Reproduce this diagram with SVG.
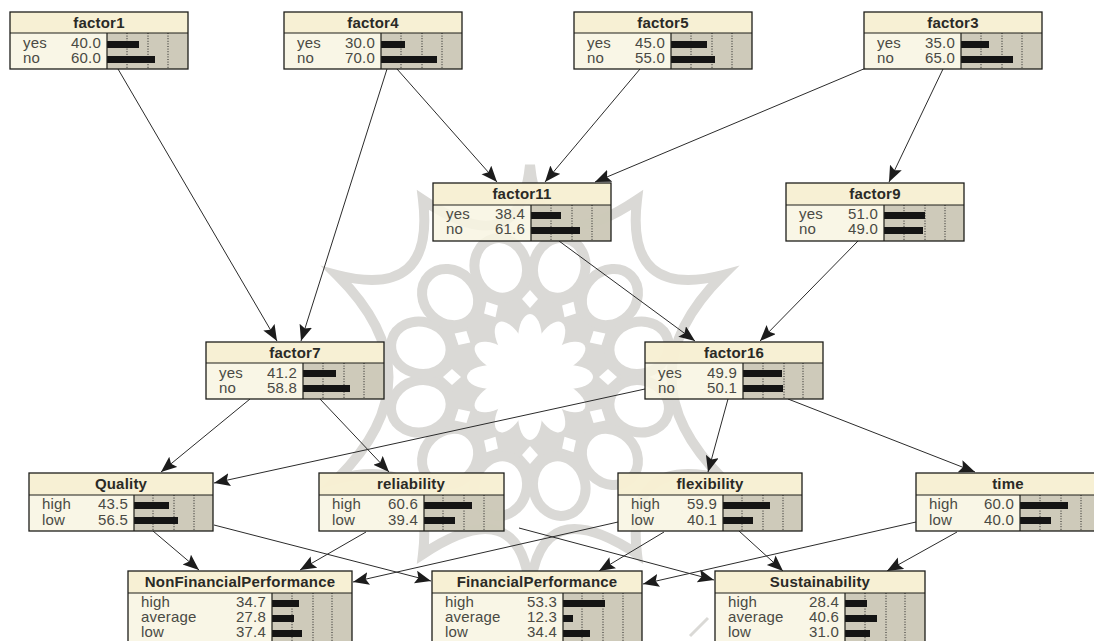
<svg xmlns="http://www.w3.org/2000/svg" width="1094" height="641" viewBox="0 0 1094 641">
<style>
text{font-family:"Liberation Sans",Arial,sans-serif;font-size:15px;letter-spacing:.2px;fill:#4a4a44}
.t{font-weight:bold;font-size:15px;text-anchor:middle;fill:#2a2a26}
.v{text-anchor:end}
.body{fill:#f8f4e2;fill-opacity:.86}
.head{fill:#f7efd0;fill-opacity:.86}
.plot{fill:#c9c5b5;fill-opacity:.9}
.frame{fill:none;stroke:#1e1e1a;stroke-width:1.3}
.sep{stroke:#1e1e1a;stroke-width:1.2}
.grid{stroke:#222;stroke-width:1;stroke-dasharray:1 1.6}
.bar{fill:#141414}
.c{fill:none;stroke:#2b2b2b;stroke-width:1;marker-end:url(#a)}
.wm{fill:none;stroke:#dad9d6;stroke-width:10;stroke-linejoin:miter}
.ring{fill:#fff;stroke:#dad9d6;stroke-width:10}
.pet{fill:#fff}
</style>
<defs>
<marker id="a" markerUnits="userSpaceOnUse" markerWidth="18" markerHeight="14" refX="16" refY="6.5" orient="auto"><path d="M0 0L16 6.5L0 13L3 6.5Z" fill="#1c1c1c"/></marker>
<ellipse id="rc" class="ring" cx="0" cy="-113" rx="26" ry="30"/>
<ellipse id="pt" class="pet" cx="0" cy="-38" rx="12" ry="25"/>
<path id="dm" class="pet" d="M0 -87L8 -78L0 -69L-8 -78Z"/>
</defs>
<rect width="1094" height="641" fill="#fff"/>
<g id="watermark">
<path class="wm" d="M530 165Q540 265 637 200Q625 300 723 275Q620 377 723 479Q625 454 637 554Q540 490 530 590Q520 490 423 554Q435 454 337 479Q440 377 337 275Q435 300 423 200Q520 265 530 165Z"/>
<path class="wm" style="stroke-width:3" d="M690 636L708 618M236 634L250 620"/>
<g transform="translate(530 377)">
<circle r="98" fill="#dad9d6"/>
<use href="#dm"/><use href="#dm" transform="rotate(30)"/><use href="#dm" transform="rotate(60)"/><use href="#dm" transform="rotate(90)"/><use href="#dm" transform="rotate(120)"/><use href="#dm" transform="rotate(150)"/><use href="#dm" transform="rotate(180)"/><use href="#dm" transform="rotate(210)"/><use href="#dm" transform="rotate(240)"/><use href="#dm" transform="rotate(270)"/><use href="#dm" transform="rotate(300)"/><use href="#dm" transform="rotate(330)"/>
<use href="#rc" transform="rotate(15)"/><use href="#rc" transform="rotate(45)"/><use href="#rc" transform="rotate(75)"/><use href="#rc" transform="rotate(105)"/><use href="#rc" transform="rotate(135)"/><use href="#rc" transform="rotate(165)"/><use href="#rc" transform="rotate(195)"/><use href="#rc" transform="rotate(225)"/><use href="#rc" transform="rotate(255)"/><use href="#rc" transform="rotate(285)"/><use href="#rc" transform="rotate(315)"/><use href="#rc" transform="rotate(345)"/>
<circle r="32" fill="#fff"/>
<use href="#pt"/><use href="#pt" transform="rotate(30)"/><use href="#pt" transform="rotate(60)"/><use href="#pt" transform="rotate(90)"/><use href="#pt" transform="rotate(120)"/><use href="#pt" transform="rotate(150)"/><use href="#pt" transform="rotate(180)"/><use href="#pt" transform="rotate(210)"/><use href="#pt" transform="rotate(240)"/><use href="#pt" transform="rotate(270)"/><use href="#pt" transform="rotate(300)"/><use href="#pt" transform="rotate(330)"/>
</g>
</g>
<g id="connectors">
<path class="c" d="M118 69L277 341"/>
<path class="c" d="M387 69L301 341"/>
<path class="c" d="M397 69L497 182"/>
<path class="c" d="M640 69L545 182"/>
<path class="c" d="M866 68L595 182"/>
<path class="c" d="M943 69L889 182"/>
<path class="c" d="M559 241L695 341"/>
<path class="c" d="M858 241L760 341"/>
<path class="c" d="M250 399L161 472"/>
<path class="c" d="M320 399L389 472"/>
<path class="c" d="M645 389L214 483"/>
<path class="c" d="M728 399L708 472"/>
<path class="c" d="M788 399L975 472"/>
<path class="c" d="M153 531L199 570"/>
<path class="c" d="M214 525L431 581"/>
<path class="c" d="M366 532L300 570"/>
<path class="c" d="M519 528L714 580"/>
<path class="c" d="M618 522L353 582"/>
<path class="c" d="M664 532L599 571"/>
<path class="c" d="M739 531L783 571"/>
<path class="c" d="M916 522L643 584"/>
<path class="c" d="M957 532L887 571"/>
</g>
<g id="factor1"><rect class="body" x="10" y="12" width="178" height="57"/><rect class="head" x="10" y="12" width="178" height="21"/><rect class="plot" x="107" y="33" width="81" height="36"/><path class="grid" d="M127 33V69M148 33V69M168 33V69"/><rect class="bar" x="107" y="41" width="32" height="7"/><rect class="bar" x="107" y="56" width="48" height="7"/><rect class="frame" x="10" y="12" width="178" height="57"/><path class="sep" d="M10 33H188M107 33V69"/><text class="t" x="99" y="28">factor1</text><text x="23" y="48">yes</text><text class="v" x="101" y="48">40.0</text><text x="23" y="63">no</text><text class="v" x="101" y="63">60.0</text></g>
<g id="factor4"><rect class="body" x="284" y="12" width="178" height="57"/><rect class="head" x="284" y="12" width="178" height="21"/><rect class="plot" x="381" y="33" width="81" height="36"/><path class="grid" d="M401 33V69M422 33V69M442 33V69"/><rect class="bar" x="381" y="41" width="24" height="7"/><rect class="bar" x="381" y="56" width="56" height="7"/><rect class="frame" x="284" y="12" width="178" height="57"/><path class="sep" d="M284 33H462M381 33V69"/><text class="t" x="373" y="28">factor4</text><text x="297" y="48">yes</text><text class="v" x="375" y="48">30.0</text><text x="297" y="63">no</text><text class="v" x="375" y="63">70.0</text></g>
<g id="factor5"><rect class="body" x="574" y="12" width="178" height="57"/><rect class="head" x="574" y="12" width="178" height="21"/><rect class="plot" x="671" y="33" width="81" height="36"/><path class="grid" d="M691 33V69M712 33V69M732 33V69"/><rect class="bar" x="671" y="41" width="36" height="7"/><rect class="bar" x="671" y="56" width="44" height="7"/><rect class="frame" x="574" y="12" width="178" height="57"/><path class="sep" d="M574 33H752M671 33V69"/><text class="t" x="663" y="28">factor5</text><text x="587" y="48">yes</text><text class="v" x="665" y="48">45.0</text><text x="587" y="63">no</text><text class="v" x="665" y="63">55.0</text></g>
<g id="factor3"><rect class="body" x="864" y="12" width="178" height="57"/><rect class="head" x="864" y="12" width="178" height="21"/><rect class="plot" x="961" y="33" width="81" height="36"/><path class="grid" d="M981 33V69M1002 33V69M1022 33V69"/><rect class="bar" x="961" y="41" width="28" height="7"/><rect class="bar" x="961" y="56" width="52" height="7"/><rect class="frame" x="864" y="12" width="178" height="57"/><path class="sep" d="M864 33H1042M961 33V69"/><text class="t" x="953" y="28">factor3</text><text x="877" y="48">yes</text><text class="v" x="955" y="48">35.0</text><text x="877" y="63">no</text><text class="v" x="955" y="63">65.0</text></g>
<g id="factor11"><rect class="body" x="433" y="183" width="178" height="58"/><rect class="head" x="433" y="183" width="178" height="22"/><rect class="plot" x="531" y="205" width="80" height="36"/><path class="grid" d="M551 205V241M572 205V241M592 205V241"/><rect class="bar" x="531" y="212" width="30" height="7"/><rect class="bar" x="531" y="227" width="49" height="7"/><rect class="frame" x="433" y="183" width="178" height="58"/><path class="sep" d="M433 205H611M531 205V241"/><text class="t" x="522" y="199">factor11</text><text x="446" y="219">yes</text><text class="v" x="525" y="219">38.4</text><text x="446" y="234">no</text><text class="v" x="525" y="234">61.6</text></g>
<g id="factor9"><rect class="body" x="786" y="183" width="178" height="58"/><rect class="head" x="786" y="183" width="178" height="22"/><rect class="plot" x="884" y="205" width="80" height="36"/><path class="grid" d="M904 205V241M925 205V241M945 205V241"/><rect class="bar" x="884" y="212" width="41" height="7"/><rect class="bar" x="884" y="227" width="39" height="7"/><rect class="frame" x="786" y="183" width="178" height="58"/><path class="sep" d="M786 205H964M884 205V241"/><text class="t" x="875" y="199">factor9</text><text x="799" y="219">yes</text><text class="v" x="878" y="219">51.0</text><text x="799" y="234">no</text><text class="v" x="878" y="234">49.0</text></g>
<g id="factor7"><rect class="body" x="206" y="342" width="178" height="57"/><rect class="head" x="206" y="342" width="178" height="21"/><rect class="plot" x="303" y="363" width="81" height="36"/><path class="grid" d="M323 363V399M344 363V399M364 363V399"/><rect class="bar" x="303" y="370" width="33" height="7"/><rect class="bar" x="303" y="385" width="47" height="7"/><rect class="frame" x="206" y="342" width="178" height="57"/><path class="sep" d="M206 363H384M303 363V399"/><text class="t" x="295" y="358">factor7</text><text x="219" y="378">yes</text><text class="v" x="297" y="378">41.2</text><text x="219" y="393">no</text><text class="v" x="297" y="393">58.8</text></g>
<g id="factor16"><rect class="body" x="645" y="342" width="178" height="57"/><rect class="head" x="645" y="342" width="178" height="21"/><rect class="plot" x="743" y="363" width="80" height="36"/><path class="grid" d="M763 363V399M784 363V399M803 363V399"/><rect class="bar" x="743" y="370" width="39" height="7"/><rect class="bar" x="743" y="385" width="40" height="7"/><rect class="frame" x="645" y="342" width="178" height="57"/><path class="sep" d="M645 363H823M743 363V399"/><text class="t" x="734" y="358">factor16</text><text x="658" y="378">yes</text><text class="v" x="737" y="378">49.9</text><text x="658" y="393">no</text><text class="v" x="737" y="393">50.1</text></g>
<g id="Quality"><rect class="body" x="29" y="473" width="184" height="58"/><rect class="head" x="29" y="473" width="184" height="22"/><rect class="plot" x="134" y="495" width="79" height="36"/><path class="grid" d="M153 495V531M174 495V531M194 495V531"/><rect class="bar" x="134" y="502" width="35" height="7"/><rect class="bar" x="134" y="517" width="44" height="7"/><rect class="frame" x="29" y="473" width="184" height="58"/><path class="sep" d="M29 495H213M134 495V531"/><text class="t" x="121" y="489">Quality</text><text x="42" y="509">high</text><text class="v" x="128" y="509">43.5</text><text x="42" y="525">low</text><text class="v" x="128" y="525">56.5</text></g>
<g id="reliability"><rect class="body" x="319" y="473" width="185" height="58"/><rect class="head" x="319" y="473" width="185" height="22"/><rect class="plot" x="424" y="495" width="80" height="36"/><path class="grid" d="M443 495V531M464 495V531M484 495V531"/><rect class="bar" x="424" y="502" width="48" height="7"/><rect class="bar" x="424" y="517" width="31" height="7"/><rect class="frame" x="319" y="473" width="185" height="58"/><path class="sep" d="M319 495H504M424 495V531"/><text class="t" x="411" y="489">reliability</text><text x="332" y="509">high</text><text class="v" x="418" y="509">60.6</text><text x="332" y="525">low</text><text class="v" x="418" y="525">39.4</text></g>
<g id="flexibility"><rect class="body" x="618" y="473" width="184" height="58"/><rect class="head" x="618" y="473" width="184" height="22"/><rect class="plot" x="723" y="495" width="79" height="36"/><path class="grid" d="M742 495V531M763 495V531M783 495V531"/><rect class="bar" x="723" y="502" width="47" height="7"/><rect class="bar" x="723" y="517" width="30" height="7"/><rect class="frame" x="618" y="473" width="184" height="58"/><path class="sep" d="M618 495H802M723 495V531"/><text class="t" x="710" y="489">flexibility</text><text x="631" y="509">high</text><text class="v" x="717" y="509">59.9</text><text x="631" y="525">low</text><text class="v" x="717" y="525">40.1</text></g>
<g id="time"><rect class="body" x="916" y="473" width="184" height="58"/><rect class="head" x="916" y="473" width="184" height="22"/><rect class="plot" x="1020" y="495" width="80" height="36"/><path class="grid" d="M1040 495V531M1061 495V531M1081 495V531"/><rect class="bar" x="1020" y="502" width="48" height="7"/><rect class="bar" x="1020" y="517" width="31" height="7"/><rect class="frame" x="916" y="473" width="184" height="58"/><path class="sep" d="M916 495H1100M1020 495V531"/><text class="t" x="1008" y="489">time</text><text x="929" y="509">high</text><text class="v" x="1014" y="509">60.0</text><text x="929" y="525">low</text><text class="v" x="1014" y="525">40.0</text></g>
<g id="NonFinancialPerformance"><rect class="body" x="128" y="571" width="224" height="75"/><rect class="head" x="128" y="571" width="224" height="22"/><rect class="plot" x="272" y="593" width="80" height="53"/><path class="grid" d="M292 593V646M313 593V646M332 593V646"/><rect class="bar" x="272" y="600" width="27" height="7"/><rect class="bar" x="272" y="615" width="22" height="7"/><rect class="bar" x="272" y="630" width="30" height="7"/><rect class="frame" x="128" y="571" width="224" height="75"/><path class="sep" d="M128 593H352M272 593V646"/><text class="t" x="240" y="587">NonFinancialPerformance</text><text x="141" y="607">high</text><text x="141" y="622">average</text><text x="141" y="637">low</text><text class="v" x="266" y="607">34.7</text><text class="v" x="266" y="622">27.8</text><text class="v" x="266" y="637">37.4</text></g>
<g id="FinancialPerformance"><rect class="body" x="432" y="571" width="210" height="75"/><rect class="head" x="432" y="571" width="210" height="22"/><rect class="plot" x="563" y="593" width="79" height="53"/><path class="grid" d="M582 593V646M603 593V646M623 593V646"/><rect class="bar" x="563" y="600" width="42" height="7"/><rect class="bar" x="563" y="615" width="10" height="7"/><rect class="bar" x="563" y="630" width="27" height="7"/><rect class="frame" x="432" y="571" width="210" height="75"/><path class="sep" d="M432 593H642M563 593V646"/><text class="t" x="537" y="587">FinancialPerformance</text><text x="445" y="607">high</text><text x="445" y="622">average</text><text x="445" y="637">low</text><text class="v" x="557" y="607">53.3</text><text class="v" x="557" y="622">12.3</text><text class="v" x="557" y="637">34.4</text></g>
<g id="Sustainability"><rect class="body" x="715" y="571" width="210" height="75"/><rect class="head" x="715" y="571" width="210" height="22"/><rect class="plot" x="845" y="593" width="80" height="53"/><path class="grid" d="M865 593V646M886 593V646M905 593V646"/><rect class="bar" x="845" y="600" width="22" height="7"/><rect class="bar" x="845" y="615" width="32" height="7"/><rect class="bar" x="845" y="630" width="25" height="7"/><rect class="frame" x="715" y="571" width="210" height="75"/><path class="sep" d="M715 593H925M845 593V646"/><text class="t" x="820" y="587">Sustainability</text><text x="728" y="607">high</text><text x="728" y="622">average</text><text x="728" y="637">low</text><text class="v" x="839" y="607">28.4</text><text class="v" x="839" y="622">40.6</text><text class="v" x="839" y="637">31.0</text></g>
</svg>
